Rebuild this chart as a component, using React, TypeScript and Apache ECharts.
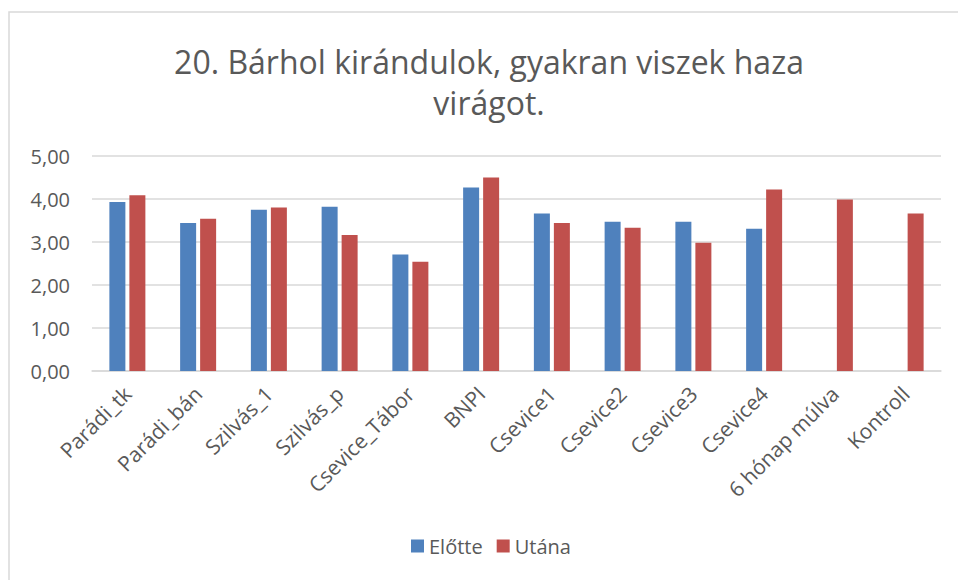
import React, { useEffect, useRef } from "react";
import * as echarts from "echarts";

const categories = [
  "Parádi_tk",
  "Parádi_bán",
  "Szilvás_1",
  "Szilvás_p",
  "Csevice_Tábor",
  "BNPI",
  "Csevice1",
  "Csevice2",
  "Csevice3",
  "Csevice4",
  "6 hónap múlva",
  "Kontroll",
];
const elotte: (number | null)[] = [3.93, 3.44, 3.75, 3.82, 2.71, 4.27, 3.66, 3.47, 3.47, 3.31, null, null];
const utana: (number | null)[] = [4.09, 3.54, 3.8, 3.16, 2.54, 4.5, 3.44, 3.33, 2.98, 4.22, 3.99, 3.66];
const seriesNames = ["Előtte", "Utána"];
const titleLines = ["20. Bárhol kirándulok, gyakran viszek haza", "virágot."];

const FONT = "'Open Sans', sans-serif";
const TEXT = "#595959";

export default function App() {
  const ref = useRef<HTMLDivElement>(null);
  useEffect(() => {
    if (!ref.current) return;
    const chart = echarts.init(ref.current, null, { renderer: "svg" });
    chart.setOption({
      animation: false,
      backgroundColor: "#ffffff",
      textStyle: { fontFamily: FONT },
      graphic: [
        {
          type: "rect",
          shape: { x: 9, y: 12, width: 960, height: 580 },
          style: { fill: "none", stroke: "#D9D9D9", lineWidth: 1.5 },
          silent: true,
        },
        {
          type: "text",
          x: 489,
          y: 82,
          style: {
            text: titleLines.join("\n"),
            fill: TEXT,
            font: `32px ${FONT}`,
            lineHeight: 41,
            align: "center",
            verticalAlign: "middle",
          },
        },
      ],
      legend: {
        bottom: 19,
        left: 406,
        itemWidth: 13,
        itemHeight: 13,
        itemGap: 14,
        icon: "rect",
        textStyle: { color: TEXT, fontSize: 20, fontFamily: FONT },
        data: seriesNames,
      },
      grid: { left: 92, right: 17, top: 156, bottom: 209, containLabel: false },
      xAxis: {
        type: "category",
        data: categories,
        axisLine: { lineStyle: { color: "#D9D9D9", width: 1.5 } },
        axisTick: { show: false },
        axisLabel: {
          rotate: 45,
          interval: 0,
          color: TEXT,
          fontSize: 21,
          fontFamily: FONT,
          margin: 19,
        },
      },
      yAxis: {
        type: "value",
        min: 0,
        max: 5,
        interval: 1,
        axisLine: { show: false },
        axisTick: { show: false },
        splitLine: { lineStyle: { color: "#D9D9D9", width: 1.5 } },
        axisLabel: {
          color: TEXT,
          fontSize: 20,
          fontFamily: FONT,
          margin: 22,
          formatter: (v: number) => v.toFixed(2).replace(".", ","),
        },
      },
      series: [
        {
          name: seriesNames[0],
          type: "bar",
          data: elotte,
          barWidth: 16,
          barGap: "25%",
          itemStyle: { color: "#4F81BD" },
        },
        {
          name: seriesNames[1],
          type: "bar",
          data: utana,
          barWidth: 16,
          barGap: "25%",
          itemStyle: { color: "#C0504D" },
        },
      ],
    });
    return () => chart.dispose();
  }, []);
  return (
    <div
      ref={ref}
      style={{ position: "absolute", left: 0, top: 0, width: 958, height: 580 }}
    />
  );
}
